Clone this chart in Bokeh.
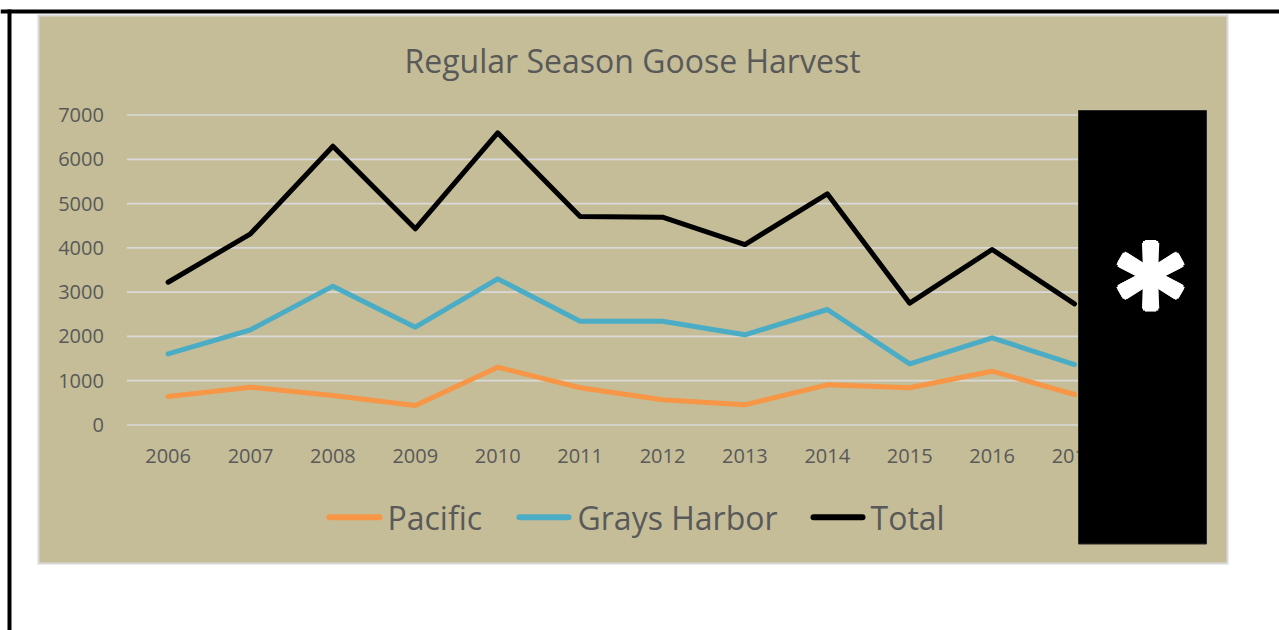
from bokeh.plotting import figure
from bokeh.models import Range1d, ColumnDataSource
from bokeh.core.properties import value
from bokeh.embed import file_html
from bokeh.resources import INLINE

# ---- data ----
years = ["2006", "2007", "2008", "2009", "2010", "2011", "2012", "2013", "2014", "2015", "2016", "2017"]
pacific = [643, 854, 666, 440, 1305, 840, 569, 456, 907, 840, 1215, 689]
grays_harbor = [1607, 2149, 3135, 2209, 3300, 2344, 2344, 2036, 2608, 1381, 1968, 1366]
total = [3224, 4317, 6295, 4430, 6597, 4708, 4692, 4075, 5220, 2751, 3963, 2736]
y_ticks = [0, 1000, 2000, 3000, 4000, 5000, 6000, 7000]
series_names = ["Pacific", "Grays Harbor", "Total"]
series_colors = ["#F79646", "#4BACC6", "#000000"]
title_text = "Regular Season Goose Harvest"

# ---- layout constants (pixels) ----
W, H = 1279, 630
KHAKI = "#C4BD97"
GRID = "#D9D9D9"
TXT = "#595959"
FONT = "Open Sans"
X0_PX, PX_PER_YEAR = 167.6, 82.4       # centre of first category, category spacing
Y0_PX, Y_TOP_PX = 424.5, 114.5        # pixel rows of 0 and of the top tick
yrs = [int(y) for y in years]
px_per_val = (Y0_PX - Y_TOP_PX) / (y_ticks[-1] - y_ticks[0])
yr_start = yrs[0] - X0_PX / PX_PER_YEAR
val_start = y_ticks[0] - (H - Y0_PX) / px_per_val

p = figure(width=W, height=H, x_range=Range1d(0, W), y_range=Range1d(H, 0),
           x_axis_type=None, y_axis_type=None, output_backend="svg", toolbar_location=None,
           min_border=0, title=None)
p.extra_x_ranges = {"yr": Range1d(yr_start, yr_start + W / PX_PER_YEAR)}
p.extra_y_ranges = {"val": Range1d(val_start, val_start + H / px_per_val)}
p.background_fill_color = "white"
p.border_fill_color = "white"
p.outline_line_color = None
p.grid.visible = False

# page border lines, chart area with light border
p.quad(left=[0, 7], right=[W, 11], top=[9, 9], bottom=[13, H], fill_color="black", line_color=None)
p.quad(left=[37], right=[1228], top=[14], bottom=[564], fill_color=GRID, line_color=None)
p.quad(left=[39], right=[1226], top=[16], bottom=[562], fill_color=KHAKI, line_color=None)

# horizontal gridlines across the category span
p.segment(x0=[yrs[0] - 0.5] * len(y_ticks), x1=[yrs[-1] + 0.5] * len(y_ticks), y0=y_ticks, y1=y_ticks,
          line_color=GRID, line_width=1.7, x_range_name="yr", y_range_name="val")

# y tick labels
ysrc = ColumnDataSource(dict(x=[yrs[0] - 0.5] * len(y_ticks), y=y_ticks, t=[str(v) for v in y_ticks]))
p.text(x="x", y="y", text="t", source=ysrc, x_offset=-23, text_align="right", text_baseline="middle",
       text_font=value(FONT), text_font_size=value("20px"), text_color=TXT,
       x_range_name="yr", y_range_name="val")

# x tick labels
xsrc = ColumnDataSource(dict(x=yrs, y=[y_ticks[0]] * len(yrs), t=years))
p.text(x="x", y="y", text="t", source=xsrc, y_offset=31, text_align="center", text_baseline="middle",
       text_font=value(FONT), text_font_size=value("20px"), text_color=TXT,
       x_range_name="yr", y_range_name="val")

# title
p.text(x=[632], y=[60], text=[title_text], text_align="center", text_baseline="alphabetic",
       text_font=value(FONT), text_font_size=value("32px"), text_color=TXT)

# data lines
for vals, col in zip([pacific, grays_harbor, total], series_colors):
    p.line(x=yrs, y=vals, line_color=col, line_width=5, line_cap="round", line_join="round",
           x_range_name="yr", y_range_name="val")

# legend
p.segment(x0=[329, 519, 813], x1=[379, 568, 862], y0=[516.7] * 3, y1=[516.7] * 3,
          line_color=series_colors, line_width=6, line_cap="round")
p.text(x=[387, 577, 870], y=[516.5] * 3, text=series_names, text_align="left", text_baseline="alphabetic",
       text_font=value(FONT), text_font_size=value("32px"), text_color=TXT)

# redaction box
p.quad(left=[1078], right=[1206], top=[110], bottom=[543.5], fill_color="black",
       line_color="#2a2a2a", line_width=1)

# heavy asterisk: a few slightly shifted copies of the same glyph
offs = [(0, 0), (-3, 0), (3, 0), (0, -3), (0, 3), (-2, -2), (2, -2), (-2, 2), (2, 2)]
src = ColumnDataSource(dict(x=[1150] * len(offs), y=[300] * len(offs), t=["*"] * len(offs),
                            dx=[o[0] for o in offs], dy=[o[1] for o in offs]))
p.text(x="x", y="y", text="t", source=src, x_offset="dx", y_offset="dy", text_align="center",
       text_baseline="middle", text_font=value("Inter"), text_font_size=value("160px"), text_color="white")

open("out.html", "w").write(file_html(p, INLINE))
